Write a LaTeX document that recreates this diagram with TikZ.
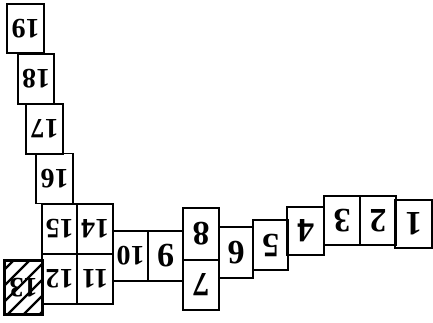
\documentclass[tikz,border=0pt]{standalone}
\usepackage{fontspec}
\setmainfont{Liberation Serif}
\begin{document}
\begin{tikzpicture}[x=1pt,y=-1pt,
  cell/.style={draw=black,line width=1.6pt,inner sep=0pt,outer sep=0pt,rotate=180,
    font=\fontsize{34}{34}\selectfont\bfseries},
  twodig/.style={font=\fontsize{28}{28}\selectfont\bfseries}]
\useasboundingbox (0,0) rectangle (433,323);
\node[cell,twodig,minimum width=37pt,minimum height=49pt] (n19) at (25.5,28.5) {19};
\node[cell,twodig,minimum width=36pt,minimum height=50pt] (n18) at (36,79) {18};
\node[cell,twodig,minimum width=37pt,minimum height=50pt] (n17) at (44.5,129) {17};
\node[cell,twodig,minimum width=37pt,minimum height=50pt] (n16) at (54.5,178.5) {16};
\node[cell,twodig,minimum width=35pt,minimum height=50pt] (n15) at (59.5,229) {15};
\node[cell,twodig,minimum width=36pt,minimum height=50pt] (n14) at (95,229) {14};
\node[cell,twodig,minimum width=35pt,minimum height=50pt] (n12) at (59.5,279) {12};
\node[cell,twodig,minimum width=36pt,minimum height=50pt] (n11) at (95,279) {11};
\node[cell,twodig,minimum width=35pt,minimum height=50pt] (n10) at (130.5,256) {10};
\node[cell,minimum width=35pt,minimum height=50pt] (n9) at (165.5,256) {9};
\node[cell,minimum width=36pt,minimum height=52pt] (n8) at (201,234) {8};
\node[cell,minimum width=36pt,minimum height=50pt] (n7) at (201,285) {7};
\node[cell,minimum width=34pt,minimum height=51pt] (n6) at (236,252.5) {6};
\node[cell,minimum width=35pt,minimum height=50pt] (n5) at (270.5,245) {5};
\node[cell,minimum width=37pt,minimum height=48pt] (n4) at (305.5,231) {4};
\node[cell,minimum width=36pt,minimum height=49pt] (n3) at (342,220.5) {3};
\node[cell,minimum width=36pt,minimum height=49pt] (n2) at (378,220.5) {2};
\node[cell,minimum width=37pt,minimum height=48pt] (n1) at (413.5,224) {1};
% hatched box 13
\node[inner sep=0pt,outer sep=0pt,minimum width=38pt,minimum height=54pt] (n13) at (23.5,287.5) {};
\begin{scope}
  \clip (n13.south west) rectangle (n13.north east);
  \foreach \d in {-64,-48,...,64} {
    \draw[line width=2.4pt] ([xshift=\d pt]n13.south) -- ++(60,-60);
    \draw[line width=2.4pt] ([xshift=\d pt]n13.south) -- ++(-60,60);
  }
\end{scope}
\node[rotate=180,inner sep=0pt,font=\fontsize{28}{28}\selectfont\bfseries,text=black] (t13) at (n13.center) {13};
\draw[line width=3.5pt] (n13.south west) rectangle (n13.north east);
\end{tikzpicture}
\end{document}
